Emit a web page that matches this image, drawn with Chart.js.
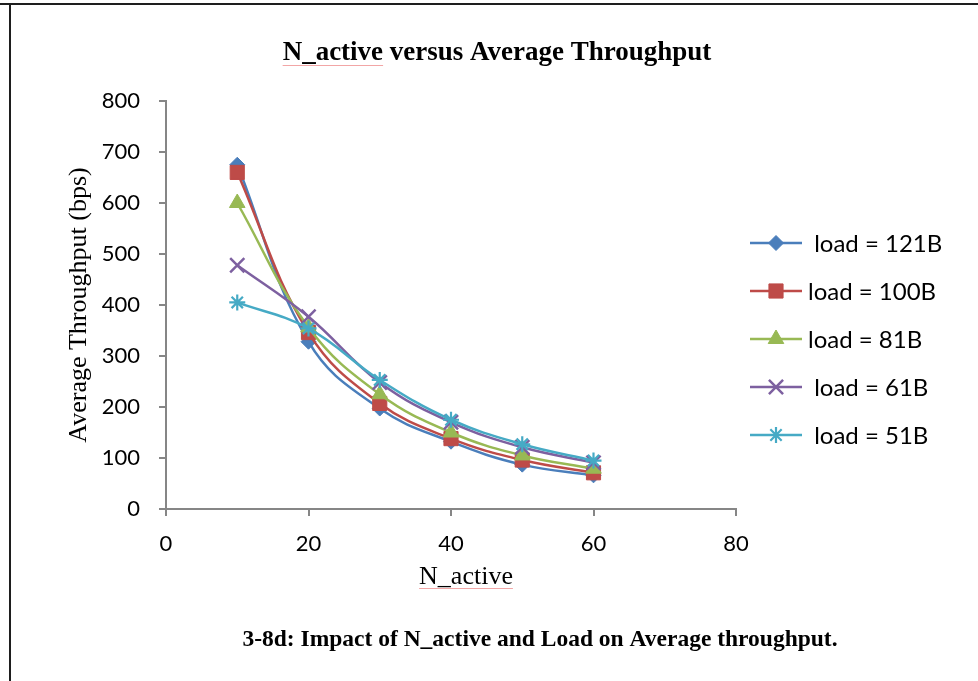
<!DOCTYPE html>
<html>
<head>
<meta charset="utf-8">
<script src="https://cdn.jsdelivr.net/npm/chart.js@4.4.1/dist/chart.umd.min.js"></script>
<style>
html,body{margin:0;padding:0;background:#fff;}
#wrap{width:978px;height:681px;position:relative;}
canvas{display:block;}
</style>
</head>
<body>
<div id="wrap"><canvas id="c" width="978" height="681"></canvas></div>
<script>
// ---- data ----
const nActive = [10, 20, 30, 40, 50, 60];
const seriesNames = [" load = 121B", "load = 100B", "load = 81B", " load = 61B", " load = 51B"];
const load121 = [675, 328, 197, 132, 87, 66];
const load100 = [660, 346, 207, 138, 96, 71];
const load81  = [600, 356, 225, 150, 105, 79];
const load61  = [478, 377, 248, 170, 121, 91];
const load51  = [405, 354, 253, 175, 127, 95];
const xTickValues = [0, 20, 40, 60, 80];
const yTickValues = [0, 100, 200, 300, 400, 500, 600, 700, 800];
const chartTitle = "N_active versus Average Throughput";
const xTitle = "N_active";
const yTitle = "Average Throughput (bps)";
const caption = "3-8d: Impact of N_active and Load on Average throughput.";

// ---- styles ----
const seriesValues = [load121, load100, load81, load61, load51];
const lineColors  = ["#4a7ebb", "#be4b48", "#98b954", "#7d60a0", "#46aac5"];
const markerStyles = ["rectRot", "rect", "triangle", "crossRot", "star"];
const markerRadius = [7.5, 10, 9, 10, 8];
const markerBorder = [1, 1, 1, 2.5, 2.2];

const datasets = seriesValues.map((vals, i) => ({
  label: seriesNames[i],
  data: nActive.map((x, j) => ({x: x, y: vals[j]})),
  borderColor: lineColors[i],
  backgroundColor: lineColors[i],
  pointBackgroundColor: lineColors[i],
  pointBorderColor: lineColors[i],
  pointStyle: markerStyles[i],
  pointRadius: markerRadius[i],
  pointBorderWidth: markerBorder[i],
  borderWidth: 2.5,
  tension: 0.4,
  fill: false,
  order: 5 - i
}));

const axisGray = "#868686";
const spellPink = "#f2a6a6";

const decor = {
  id: "decor",
  beforeDraw(chart) {
    const ctx = chart.ctx;
    ctx.save();
    ctx.fillStyle = "#fff";
    ctx.fillRect(0, 0, chart.width, chart.height);
    ctx.fillStyle = "#1e1e1e";
    ctx.fillRect(0, 3, chart.width, 2);
    ctx.fillRect(9, 3, 2, chart.height - 3);
    ctx.restore();
  },
  afterDraw(chart) {
    const ctx = chart.ctx;
    ctx.save();
    ctx.fillStyle = "#000";
    ctx.textAlign = "center";
    ctx.textBaseline = "middle";
    ctx.font = "bold 27px 'Liberation Serif'";
    ctx.fillText(chartTitle, 497, 53);
    const tw = ctx.measureText(chartTitle).width;
    const w1 = ctx.measureText("N_active").width;
    // x axis title
    ctx.font = "26px 'Liberation Serif'";
    ctx.fillText(xTitle, 466, 577);
    const xw = ctx.measureText(xTitle).width;
    // spell-check underlines
    ctx.fillStyle = spellPink;
    ctx.fillRect(497 - tw / 2, 65, w1, 1);
    ctx.fillRect(466 - xw / 2, 588, xw, 1);
    // caption
    ctx.fillStyle = "#000";
    ctx.font = "bold 23.5px 'Liberation Serif'";
    ctx.fillText(caption, 540, 640);
    // legend
    const H = Chart.helpers;
    chart.data.datasets.forEach((ds, i) => {
      const y = 243 + 48 * i;
      ctx.strokeStyle = ds.borderColor;
      ctx.lineWidth = 2.5;
      ctx.beginPath();
      ctx.moveTo(750, y);
      ctx.lineTo(802, y);
      ctx.stroke();
      ctx.fillStyle = ds.pointBackgroundColor;
      ctx.strokeStyle = ds.pointBorderColor;
      ctx.lineWidth = ds.pointBorderWidth;
      if (H && H.drawPoint) {
        H.drawPoint(ctx, {pointStyle: ds.pointStyle, rotation: 0, radius: ds.pointRadius, borderWidth: ds.pointBorderWidth}, 776, y);
      }
      ctx.fillStyle = "#000";
      ctx.textAlign = "left";
      ctx.textBaseline = "middle";
      ctx.font = "24px Lato";
      ctx.fillText(ds.label, 808, y + 1);
    });
    ctx.restore();
  }
};

new Chart(document.getElementById("c"), {
  type: "line",
  data: { datasets: datasets },
  plugins: [decor],
  options: {
    responsive: false,
    animation: false,
    devicePixelRatio: 1,
    layout: { padding: { left: 60, right: 242, top: 101, bottom: 0 } },
    plugins: { legend: { display: false }, tooltip: { enabled: false }, title: { display: false } },
    scales: {
      x: {
        type: "linear",
        min: 0, max: 80,
        afterBuildTicks: (s) => { s.ticks = xTickValues.map(v => ({value: v})); },
        afterFit: (s) => { s.height = 172; },
        grid: { drawOnChartArea: false, drawTicks: true, tickLength: 7, color: axisGray, lineWidth: 2 },
        border: { display: true, color: axisGray, width: 2 },
        ticks: { color: "#000", font: { family: "Lato", size: 22 }, padding: 15, maxRotation: 0 },
        title: { display: false, text: xTitle }
      },
      y: {
        type: "linear",
        min: 0, max: 800,
        afterBuildTicks: (s) => { s.ticks = yTickValues.map(v => ({value: v})); },
        afterFit: (s) => { s.width = 106; },
        grid: { drawOnChartArea: false, drawTicks: true, tickLength: 7, color: axisGray, lineWidth: 2 },
        border: { display: true, color: axisGray, width: 2 },
        ticks: { color: "#000", font: { family: "Lato", size: 22 }, padding: 19 },
        title: { display: true, text: yTitle, color: "#000", font: { family: "'Liberation Serif'", size: 26 }, padding: { top: 4, bottom: 0 } }
      }
    }
  }
});
</script>
</body>
</html>
